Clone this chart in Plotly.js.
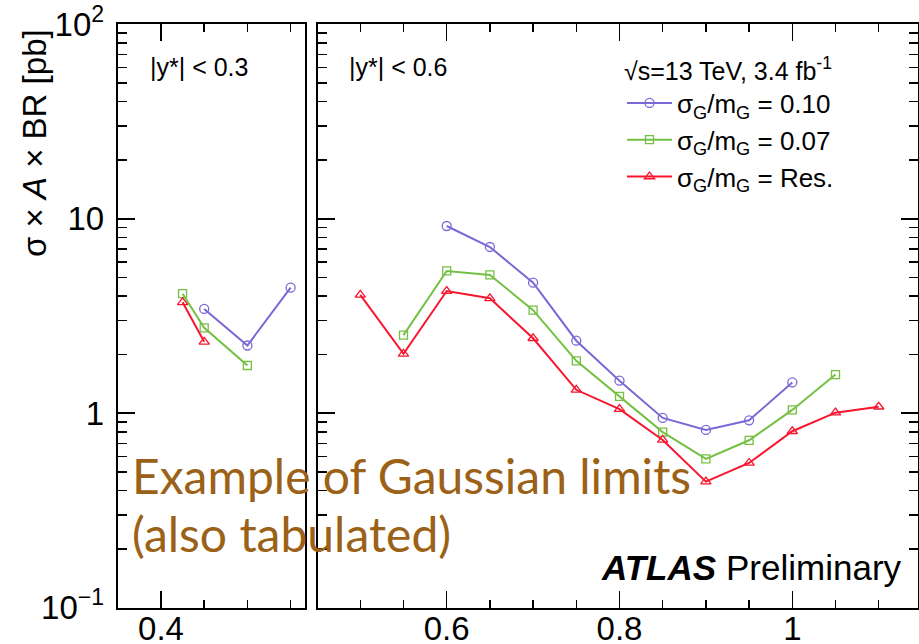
<!DOCTYPE html>
<html>
<head>
<meta charset="utf-8">
<script src="https://cdn.plot.ly/plotly-3.0.1.min.js"></script>
<style>
html,body{margin:0;padding:0;background:#fff;}
#chart{width:919px;height:644px;}
</style>
</head>
<body>
<div id="chart"></div>
<script>
// ---- data (mass in TeV, sigma x A x BR in pb) ----
// left panel |y*| < 0.3
const leftMass010 = [0.45, 0.5, 0.55];
const leftVal010  = [3.44, 2.23, 4.42];
const leftMass007 = [0.425, 0.45, 0.5];
const leftVal007  = [4.12, 2.75, 1.76];
const leftMassRes = [0.425, 0.45];
const leftValRes  = [3.72, 2.33];
// right panel |y*| < 0.6
const rightMass010 = [0.6, 0.65, 0.7, 0.75, 0.8, 0.85, 0.9, 0.95, 1.0];
const rightVal010  = [9.18, 7.16, 4.69, 2.36, 1.47, 0.946, 0.821, 0.92, 1.44];
const rightMass007 = [0.55, 0.6, 0.65, 0.7, 0.75, 0.8, 0.85, 0.9, 0.95, 1.0, 1.05];
const rightVal007  = [2.52, 5.39, 5.14, 3.39, 1.86, 1.22, 0.80, 0.582, 0.726, 1.04, 1.58];
const rightMassRes = [0.5, 0.55, 0.6, 0.65, 0.7, 0.75, 0.8, 0.85, 0.9, 0.95, 1.0, 1.05, 1.1];
const rightValRes  = [4.06, 2.02, 4.25, 3.90, 2.43, 1.32, 1.05, 0.729, 0.445, 0.555, 0.808, 1.007, 1.08];

const seriesNames = ["σ<sub>G</sub>/m<sub>G</sub> = 0.10", "σ<sub>G</sub>/m<sub>G</sub> = 0.07", "σ<sub>G</sub>/m<sub>G</sub> = Res."];
const yTickVals   = [0.1, 1, 10, 100];
const yTickLabels = ["10<sup>−1</sup>", "1", "10", "10<sup>2</sup>"];
const panelLabels = ["|y*| < 0.3", "|y*| < 0.6"];
const legendTitle = "√s=13 TeV, 3.4 fb<sup>-1</sup>";
const yTitle = "σ × <i>A</i> × BR [pb]";
const noteLines = ["Example of Gaussian limits", "(also tabulated)"];

// ---- styles ----
const colors  = ["#7b68d6", "#74c043", "#f8162f"];
const symbols = ["circle-open", "square-open", "triangle-up-open"];
const msizes  = [9, 8, 9];

function tr(x, y, i, xa, ya, show) {
  return {
    x: x, y: y, xaxis: xa, yaxis: ya, type: "scatter", mode: "lines+markers",
    name: seriesNames[i], showlegend: show, legendrank: i + 1,
    line: {color: colors[i], width: 2},
    marker: {symbol: symbols[i], size: msizes[i], color: colors[i], line: {width: 1.3, color: colors[i]}}
  };
}

const data = [
  tr(leftMass010, leftVal010, 0, "x", "y", false),
  tr(leftMass007, leftVal007, 1, "x", "y", false),
  tr(leftMassRes, leftValRes, 2, "x", "y", false),
  tr(rightMass010, rightVal010, 0, "x2", "y2", true),
  tr(rightMass007, rightVal007, 1, "x2", "y2", true),
  tr(rightMassRes, rightValRes, 2, "x2", "y2", true)
];

const W = 919, H = 644;
const px = v => v / W;
const py = v => 1 - v / H;

const minorY = [];
[0.1, 1, 10].forEach(d => { for (let k = 2; k <= 9; k++) minorY.push(k * d); });

const FONT = "Liberation Sans, Arial, sans-serif";
const tickFont = {family: FONT, size: 33, color: "#000"};

function xaxisDef(domain, range, anchor) {
  return {
    domain: domain, range: range, anchor: anchor, type: "linear",
    showline: true, linecolor: "#000", linewidth: 2, mirror: "allticks",
    ticks: "inside", ticklen: 17, tickwidth: 1.5, tickcolor: "#000",
    tick0: 0, dtick: 0.2, tickfont: tickFont, ticklabelstandoff: -9,
    showgrid: false, zeroline: false,
    minor: {ticks: "inside", ticklen: 8, tickwidth: 1.5, tickcolor: "#000", tick0: 0, dtick: 0.05, showgrid: false},
    fixedrange: true
  };
}
function yaxisDef(anchor, labels, mir) {
  return {
    domain: [py(607.7), py(24.3)], range: [-1, 2], type: "log", anchor: anchor,
    showline: true, linecolor: "#000", linewidth: 2, mirror: mir,
    ticks: "inside", ticklen: 17, tickwidth: 1.5, tickcolor: "#000",
    tickmode: "array", tickvals: yTickVals, ticktext: yTickLabels,
    showticklabels: labels, tickfont: tickFont, ticklabelstandoff: 5,
    showgrid: false, zeroline: false,
    minor: {ticks: "inside", ticklen: 9, tickwidth: 1.5, tickcolor: "#000", tickmode: "array", tickvals: minorY, showgrid: false},
    fixedrange: true
  };
}

const layout = {
  width: W, height: H,
  margin: {l: 0, r: 0, t: 0, b: 0, pad: 0},
  paper_bgcolor: "#fff", plot_bgcolor: "#fff",
  font: {family: FONT, color: "#000"},
  xaxis:  xaxisDef([px(117.7), px(305)], [0.34988, 0.56666], "y"),
  xaxis2: xaxisDef([px(317.5), px(918)], [0.45046, 1.14548], "y2"),
  yaxis:  yaxisDef("x", true, true),
  yaxis2: yaxisDef("x2", false, "allticks"),
  showlegend: true,
  legend: {
    x: px(622), y: py(47), xanchor: "left", yanchor: "top",
    bgcolor: "rgba(0,0,0,0)", borderwidth: 0,
    font: {family: FONT, size: 26, color: "#000"},
    title: {text: legendTitle, side: "top", font: {family: FONT, size: 25, color: "#000"}},
    itemwidth: 45, tracegroupgap: 0, traceorder: "normal"
  },
  annotations: [
    {text: yTitle, xref: "paper", yref: "paper", x: px(34), y: py(143), xanchor: "center", yanchor: "middle",
     textangle: -90, showarrow: false, font: {family: FONT, size: 33, color: "#000"}},
    {text: panelLabels[0], xref: "paper", yref: "paper", x: px(148), y: py(67), xanchor: "left", yanchor: "middle",
     showarrow: false, font: {family: FONT, size: 25, color: "#000"}},
    {text: panelLabels[1], xref: "paper", yref: "paper", x: px(347), y: py(67), xanchor: "left", yanchor: "middle",
     showarrow: false, font: {family: FONT, size: 25, color: "#000"}},
    {text: "<b><i>ATLAS</i></b>", xref: "paper", yref: "paper", x: px(599), y: py(567), xanchor: "left", yanchor: "middle",
     showarrow: false, font: {family: FONT, size: 35, color: "#000"}},
    {text: "Preliminary", xref: "paper", yref: "paper", x: px(904), y: py(567), xanchor: "right", yanchor: "middle",
     showarrow: false, font: {family: FONT, size: 35, color: "#000"}},
    {text: noteLines[0], xref: "paper", yref: "paper", x: px(130), y: py(476), xanchor: "left", yanchor: "middle",
     showarrow: false, font: {family: "Lato, sans-serif", size: 48, color: "#9b6116"}},
    {text: noteLines[1], xref: "paper", yref: "paper", x: px(130), y: py(533), xanchor: "left", yanchor: "middle",
     showarrow: false, font: {family: "Lato, sans-serif", size: 48, color: "#9b6116"}}
  ]
};

Plotly.newPlot("chart", data, layout, {staticPlot: true, displayModeBar: false});
</script>
</body>
</html>
